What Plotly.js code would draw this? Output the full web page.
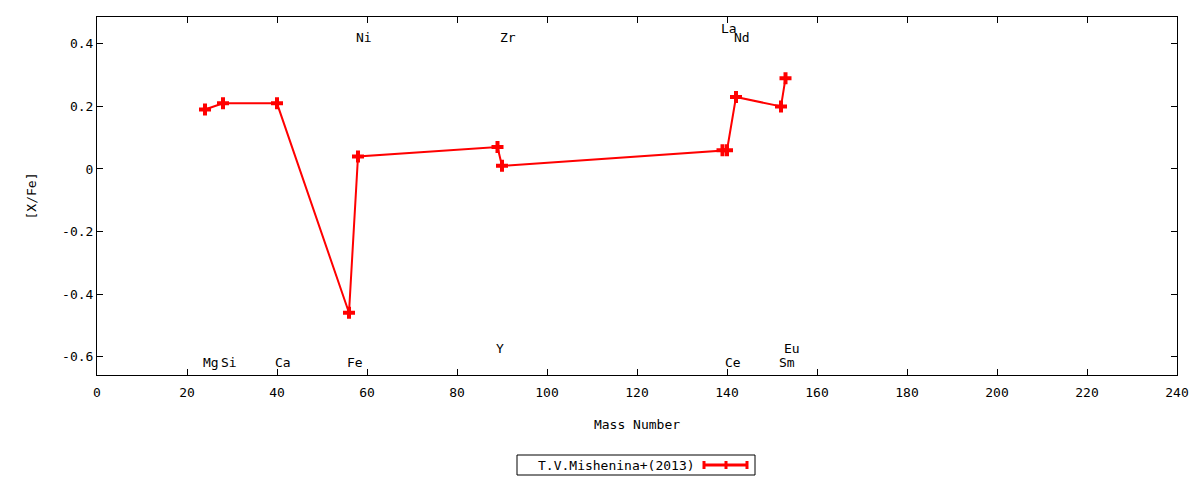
<!DOCTYPE html>
<html>
<head>
<meta charset="utf-8">
<script src="https://cdn.plot.ly/plotly-3.0.1.min.js"></script>
<style>html,body{margin:0;padding:0;background:#fff;}#chart{width:1200px;height:480px;}</style>
</head>
<body>
<div id="chart"></div>
<script>
// Data
const elements = ["Mg","Si","Ca","Fe","Ni","Y","Zr","La","Ce","Nd","Sm","Eu"];
const massNumber = [24, 28, 40, 56, 58, 89, 90, 139, 140, 142, 152, 153];
const xFe = [0.19, 0.21, 0.21, -0.46, 0.04, 0.07, 0.01, 0.06, 0.06, 0.23, 0.20, 0.29];
// label y positions (element names)
const labelY = [-0.62, -0.62, -0.62, -0.62, 0.42, -0.575, 0.42, 0.45, -0.62, 0.42, -0.62, -0.575];
const seriesName = "T.V.Mishenina+(2013)";
const xTicks = [0,20,40,60,80,100,120,140,160,180,200,220,240];
const yTicks = [-0.6,-0.4,-0.2,0,0.2,0.4];
const yTickText = ["-0.6","-0.4","-0.2","0","0.2","0.4"];

const font = {family: "DejaVu Sans Mono, monospace", size: 13, color: "#000"};

const trace = {
  x: massNumber, y: xFe, type: "scatter", mode: "lines+markers",
  name: seriesName,
  line: {color: "#ff0000", width: 2},
  marker: {symbol: "cross", size: 10, color: "#ff0000", line: {width: 0}},
  showlegend: false, hoverinfo: "skip"
};

const annotations = elements.map((el, i) => ({
  x: massNumber[i], y: labelY[i], xref: "x", yref: "y",
  text: el, showarrow: false, xanchor: "left", yanchor: "middle",
  xshift: -4, font: font
}));

// custom legend (gnuplot style: text then sample on the right)
annotations.push({
  x: (616-97)/1080, y: -0.2514, xref: "paper", yref: "paper",
  text: seriesName, showarrow: false, xanchor: "center", yanchor: "middle", font: font
});

const lx0 = (704-97)/1080, lx1 = (747-97)/1080, lxm = (726-97)/1080;
const ly = -0.2514, lh = 4/358;
const red = {color: "#ff0000", width: 3};
const shapes = [
  {type: "rect", xref: "paper", yref: "paper", x0: (517-97)/1080, x1: (755-97)/1080,
   y0: -(455-375)/358, y1: -(475-375)/358, line: {color: "#000", width: 1}},
  {type: "line", xref: "paper", yref: "paper", x0: lx0, x1: lx1, y0: ly, y1: ly, line: red},
  {type: "line", xref: "paper", yref: "paper", x0: lx0, x1: lx0, y0: ly-lh, y1: ly+lh, line: red},
  {type: "line", xref: "paper", yref: "paper", x0: lx1, x1: lx1, y0: ly-lh, y1: ly+lh, line: red},
  {type: "line", xref: "paper", yref: "paper", x0: lxm, x1: lxm, y0: ly-lh, y1: ly+lh, line: red}
];

const layout = {
  width: 1200, height: 480,
  margin: {l: 97, r: 23, t: 17, b: 105},
  paper_bgcolor: "#fff", plot_bgcolor: "#fff",
  font: font,
  showlegend: false,
  xaxis: {
    range: [0, 240], tickmode: "array", tickvals: xTicks, ticktext: xTicks.map(String),
    ticks: "inside", ticklen: 6, tickcolor: "#000", showline: true, linecolor: "#000", linewidth: 1,
    mirror: "ticks", showgrid: false, zeroline: false, tickfont: font, ticklabelstandoff: 5,
    title: {text: "Mass Number", font: font, standoff: 21}
  },
  yaxis: {
    range: [-0.659, 0.486], tickmode: "array", tickvals: yTicks, ticktext: yTickText,
    ticks: "inside", ticklen: 6, tickcolor: "#000", showline: true, linecolor: "#000", linewidth: 1,
    mirror: "ticks", showgrid: false, zeroline: false, tickfont: font,
    title: {text: "[X/Fe]", font: font, standoff: 22}
  },
  annotations: annotations,
  shapes: shapes
};

Plotly.newPlot("chart", [trace], layout, {staticPlot: true, displayModeBar: false});
</script>
</body>
</html>
